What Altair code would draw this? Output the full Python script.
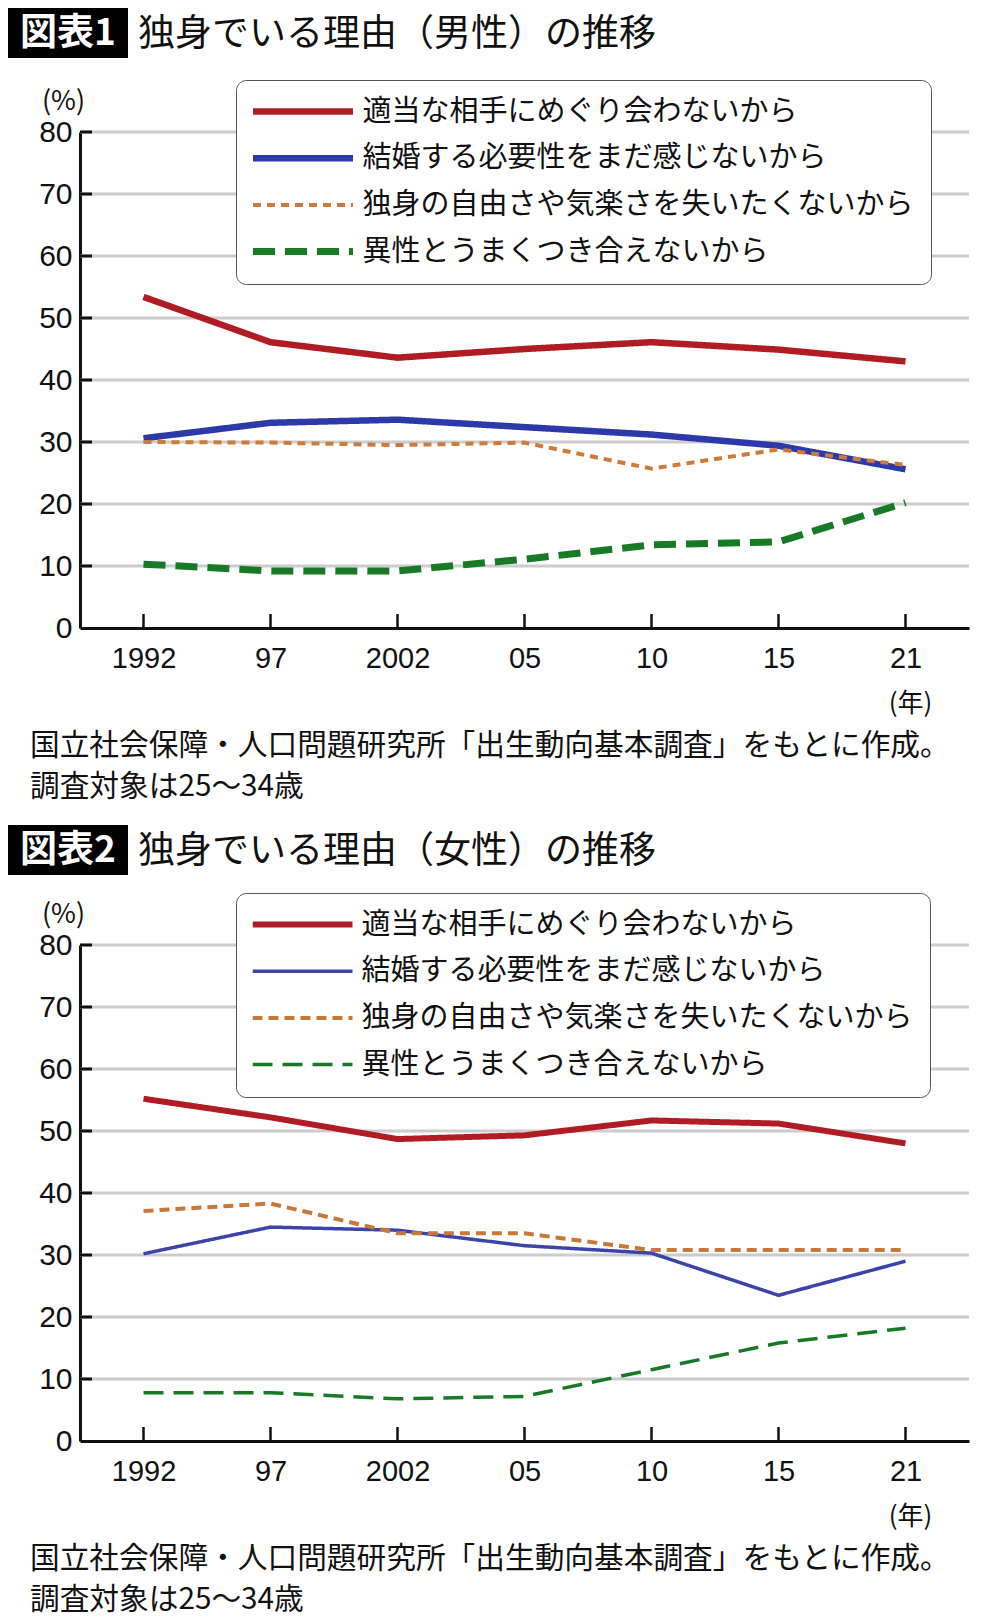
import altair as alt
import pandas as pd

years = ["1992", "97", "2002", "05", "10", "15", "21"]
series = [
    "適当な相手にめぐり会わないから",
    "結婚する必要性をまだ感じないから",
    "独身の自由さや気楽さを失いたくないから",
    "異性とうまくつき合えないから",
]

# 図表1 男性 (%)
male_meet = [53.4, 46.1, 43.6, 45.0, 46.1, 44.9, 43.0]
male_need = [30.6, 33.1, 33.6, 32.4, 31.2, 29.4, 25.6]
male_free = [30.0, 29.9, 29.5, 29.9, 25.7, 28.8, 26.3]
male_skill = [10.3, 9.2, 9.2, 11.1, 13.4, 13.9, 20.2]

# 図表2 女性 (%)
female_meet = [55.2, 52.2, 48.7, 49.3, 51.7, 51.2, 48.0]
female_need = [30.2, 34.5, 34.0, 31.5, 30.3, 23.5, 29.0]
female_free = [37.1, 38.3, 33.5, 33.5, 30.8, 30.8, 30.8]
female_skill = [7.8, 7.8, 6.8, 7.2, 11.5, 15.8, 18.2]

y_labels = [0, 10, 20, 30, 40, 50, 60, 70, 80]
y_grid = [10, 20, 30, 40, 50, 60, 70, 80]

title1 = ("図表1", "独身でいる理由（男性）の推移")
title2 = ("図表2", "独身でいる理由（女性）の推移")
caption1 = "国立社会保障・人口問題研究所「出生動向基本調査」をもとに作成。"
caption2 = "調査対象は25〜34歳"

colors1 = ["#b01c24", "#2b3aa8", "#cf7a3a", "#177a25"]
colors2 = ["#b01c24", "#3a44aa", "#c97838", "#177a25"]
widths1 = [6.5, 6.5, 4, 7]
widths2 = [6, 3.5, 4, 3.5]
dashes1 = [[1, 0], [1, 0], [8, 6], [22, 10]]
dashes2 = [[1, 0], [1, 0], [10, 6], [20, 10]]

W, H = 889, 496
JP = "Noto Sans CJK JP"
NUM = "Liberation Sans"


def panel(vals, title, colors, widths, dashes, box_top):
    rows = []
    for s, v in zip(series, vals):
        for yr, val in zip(years, v):
            rows.append({"series": s, "year": yr, "value": val})
    df = pd.DataFrame(rows)

    x_enc = alt.X(
        "year:O",
        sort=years,
        scale=alt.Scale(type="point", padding=0.5),
        axis=alt.Axis(
            title="(年)", labelFontSize=29, labelFont=NUM, labelColor="#111",
            labelPadding=16, labelAngle=0, ticks=False, grid=False,
            domainColor="#111", domainWidth=3,
            titleX=830, titleY=75, titleFontSize=26, titleFont=JP,
            titleFontWeight="normal", titleColor="#111",
            titleBaseline="middle", titleAlign="center",
        ),
    )
    y_enc = alt.Y(
        "value:Q",
        scale=alt.Scale(domain=[0, 80]),
        axis=alt.Axis(
            values=y_labels, title="(%)", labelFontSize=30, labelFont=NUM,
            labelColor="#111", labelPadding=8, ticks=False, grid=False,
            domainColor="#111", domainWidth=3,
            titleAngle=0, titleX=-17, titleY=-31, titleFontSize=27,
            titleFont=JP, titleFontWeight="normal", titleColor="#111",
            titleBaseline="middle", titleAlign="center",
        ),
    )

    leg = alt.Legend(
        orient="none", legendX=156, legendY=-52, title=None,
        symbolType="stroke", symbolSize=10000, clipHeight=30,
        rowPadding=16.7, padding=16.5, labelOffset=6, symbolOffset=-3,
        labelFontSize=29, labelFont=JP, labelColor="#111", labelLimit=0,
        strokeColor="#555", fillColor="white", cornerRadius=10,
    )

    grid = alt.Chart(pd.DataFrame({"value": y_grid})).mark_rule(
        color="#cccccc", strokeWidth=3
    ).encode(y=y_enc, x=alt.value(0), x2=alt.value(W))

    lines = alt.Chart(df).mark_line(strokeJoin="round").encode(
        x=x_enc,
        y=y_enc,
        color=alt.Color("series:N", sort=series,
                        scale=alt.Scale(domain=series, range=colors), legend=leg),
        strokeDash=alt.StrokeDash("series:N", sort=series,
                                  scale=alt.Scale(domain=series, range=dashes), legend=leg),
        strokeWidth=alt.StrokeWidth("series:N", sort=series,
                                    scale=alt.Scale(type="ordinal", domain=series, range=widths),
                                    legend=leg),
    )

    yticks = alt.Chart(pd.DataFrame({"value": y_grid})).mark_rule(
        color="#111", strokeWidth=3
    ).encode(y=y_enc, x=alt.value(0), x2=alt.value(12))

    xticks = alt.Chart(pd.DataFrame({"year": years})).mark_rule(
        color="#111", strokeWidth=2.5
    ).encode(x=x_enc, y=alt.value(H - 14), y2=alt.value(H))

    one = pd.DataFrame({"a": [title[0]], "b": [title[1]]})
    box = alt.Chart(one).mark_rect(color="black").encode(
        x=alt.value(-72), x2=alt.value(48),
        y=alt.value(box_top), y2=alt.value(box_top + 50),
    )
    tnum = alt.Chart(one).mark_text(
        font=JP, fontSize=37, fontWeight="bold", color="white",
        align="center", baseline="middle"
    ).encode(text="a:N", x=alt.value(-12), y=alt.value(box_top + 26))
    ttxt = alt.Chart(one).mark_text(
        font=JP, fontSize=37, color="#111", align="left", baseline="middle"
    ).encode(text="b:N", x=alt.value(58), y=alt.value(box_top + 27))

    caps = pd.DataFrame({"c": [caption1, caption2]})
    cap1 = alt.Chart(caps.iloc[[0]]).mark_text(
        font=JP, fontSize=29.7, color="#111", align="left", baseline="middle"
    ).encode(text="c:N", x=alt.value(-50), y=alt.value(614))
    cap2 = alt.Chart(caps.iloc[[1]]).mark_text(
        font=JP, fontSize=29.7, color="#111", align="left", baseline="middle"
    ).encode(text="c:N", x=alt.value(-50), y=alt.value(655))

    return alt.layer(grid, lines, yticks, xticks, box, tnum, ttxt, cap1, cap2).properties(
        width=W, height=H
    )


p1 = panel([male_meet, male_need, male_free, male_skill], title1, colors1, widths1, dashes1, -124)
p2 = panel([female_meet, female_need, female_free, female_skill], title2, colors2, widths2, dashes2, -120)

chart = (
    alt.vconcat(p1, p2, spacing=23)
    .resolve_scale(color="independent", strokeDash="independent", strokeWidth="independent",
                   x="independent", y="independent")
    .resolve_legend(color="independent", strokeDash="independent", strokeWidth="independent")
    .properties(padding={"left": 0, "top": 0, "right": 0, "bottom": 6}, background="white")
    .configure_view(stroke=None)
)

chart.save("out.html", embed_options={"renderer": "svg", "actions": False})
